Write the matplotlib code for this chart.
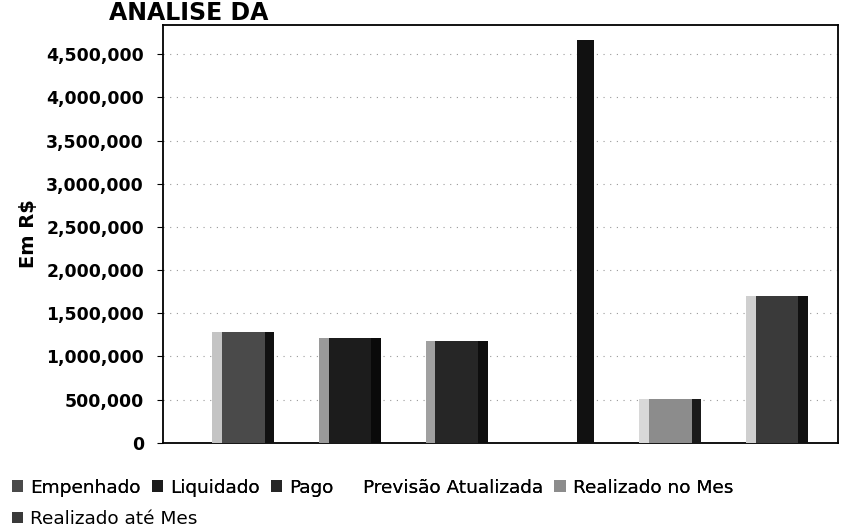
import matplotlib.pyplot as plt
from matplotlib.ticker import FuncFormatter

categorias = ['Empenhado', 'Liquidado', 'Pago', 'Previsão Atualizada',
              'Realizado no Mes', 'Realizado até Mes']
valores = [1280000, 1210000, 1180000, 4660000, 510000, 1700000]
yticks = [0, 500000, 1000000, 1500000, 2000000, 2500000, 3000000,
          3500000, 4000000, 4500000]

# estilo (tons de cinza do documento escaneado)
cor_frente = ['#4a4a4a', '#1c1c1c', '#262626', 'none', '#8c8c8c', '#3a3a3a']
cor_lado = ['#111111', '#0a0a0a', '#0e0e0e', '#111111', '#1a1a1a', '#111111']
cor_brilho = ['#c4c4c4', '#9a9a9a', '#a0a0a0', 'none', '#d8d8d8', '#cfcfcf']
larg_lado = [0.09, 0.09, 0.09, 0.16, 0.09, 0.09]

plt.rcParams['font.family'] = ['DejaVu Sans']

fig = plt.figure(figsize=(8.42, 5.29), dpi=100)
ax = fig.add_axes([0.194, 0.163, 0.801, 0.790])

barras = []
for i, v in enumerate(valores):
    # faixa clara (esquerda), face frontal, lateral escura (direita)
    ax.bar(i - 0.235, v, width=0.09, color=cor_brilho[i], linewidth=0, zorder=3)
    b = ax.bar(i + 0.01, v, width=0.40, color=cor_frente[i], linewidth=0,
               zorder=3, label=categorias[i])
    ax.bar(i + 0.30 - larg_lado[i] / 2, v, width=larg_lado[i],
           color=cor_lado[i], linewidth=0, zorder=4)
    barras.append(b)

ax.set_xlim(-0.74, 5.58)
ax.set_ylim(0, 4840000)
ax.set_yticks(yticks)
ax.yaxis.set_major_formatter(FuncFormatter(lambda v, p: '{:,.0f}'.format(v)))
ax.set_xticks([])
ax.tick_params(axis='y', labelsize=12.4, length=4, pad=10, direction='out',
               width=0.8)
for t in ax.get_yticklabels():
    t.set_fontweight('bold')

ax.yaxis.grid(True, linestyle=(0, (1, 5)), color='#9a9a9a', linewidth=0.8)
ax.set_axisbelow(True)
for s in ax.spines.values():
    s.set_color('black')
    s.set_linewidth(1.3)

ax.set_ylabel('Em R$', fontsize=14, fontweight='bold', labelpad=6)

fig.text(0.13, 0.962, 'ANALISE DA', fontsize=17, fontweight='bold',
         ha='left', va='baseline')

opts = dict(frameon=False, fontsize=13.3, handlelength=0.6, handleheight=0.6,
            handletextpad=0.4, columnspacing=0.6, borderaxespad=0)
leg1 = fig.legend(handles=barras[:5], labels=categorias[:5], ncol=5,
                  loc='upper left', bbox_to_anchor=(0.005, 0.109), **opts)
leg2 = fig.legend(handles=barras[5:], labels=categorias[5:], ncol=1,
                  loc='upper left', bbox_to_anchor=(0.005, 0.050), **opts)
fig.add_artist(leg1)

fig.savefig('out.png', dpi=100)
